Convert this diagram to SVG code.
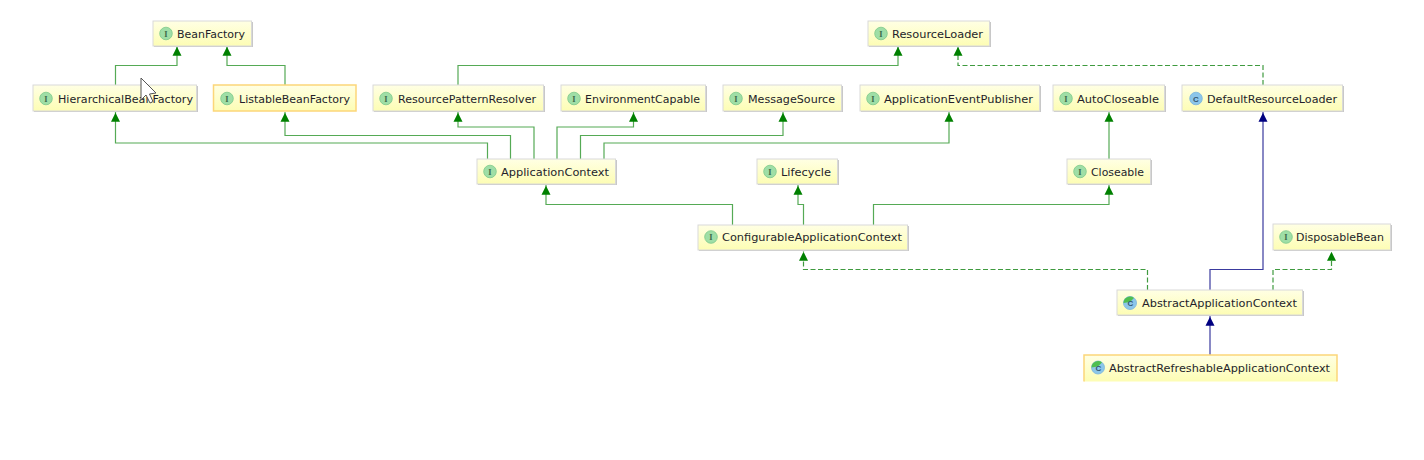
<svg xmlns="http://www.w3.org/2000/svg" width="1424" height="460" viewBox="0 0 1424 460">
<defs>
<marker id="ag" markerUnits="userSpaceOnUse" markerWidth="11" markerHeight="9" refX="9.700" refY="4.500" orient="auto" overflow="visible"><path d="M0 0L9 4.500L0 9z" fill="#008000"/></marker>
<marker id="ab" markerUnits="userSpaceOnUse" markerWidth="11" markerHeight="9" refX="9.700" refY="4.500" orient="auto" overflow="visible"><path d="M0 0L9 4.500L0 9z" fill="#000080"/></marker>
<linearGradient id="bg" x1="0" y1="0" x2="0" y2="1"><stop offset="0" stop-color="#ffffe4"/><stop offset="1" stop-color="#fdfdb4"/></linearGradient>
</defs>
<style>
text{font-family:"DejaVu Sans",sans-serif;font-size:11px;fill:#241e2a}
.box{fill:url(#bg);stroke:#d9d9d9;stroke-width:1}
.sel{fill:url(#bg);stroke:#fcd67a;stroke-width:1.5}
.shadow{fill:#c8c8c8}
.g,.gd,.b{fill:none;stroke-width:1.2}
.g{stroke:#55aa55;marker-end:url(#ag)}
.gd{stroke:#3f9a3f;stroke-dasharray:5 2.500;marker-end:url(#ag)}
.b{stroke:#3a3a9e;marker-end:url(#ab)}
.ic{fill:#9fdea6;stroke:#7cc98a;stroke-width:.8}
.il{font-family:"Liberation Serif",serif;font-size:8.500px;font-weight:bold;fill:#3e6b4a;text-anchor:middle}
.cc{fill:#8cc6ea;stroke:#78b4dc;stroke-width:.8}
.cw{fill:#4fbf4f}
.cl{font-family:"Liberation Sans",sans-serif;font-size:8px;font-weight:bold;fill:#33566e;text-anchor:middle}
</style>
<g id="connectors">
<path class="g" d="M115.500 85V65.500H177V46"/>
<path class="g" d="M285 85V65.500H227V46"/>
<path class="g" d="M458 85V65.500H898V46"/>
<path class="gd" d="M1263 85V65.500H958V46"/>
<path class="g" d="M487.500 159V143H115.500V112"/>
<path class="g" d="M510.500 159V135.500H285V112"/>
<path class="g" d="M534 159V127H458V112"/>
<path class="g" d="M557 159V127H633.500V112"/>
<path class="g" d="M580.500 159V135.500H783V112"/>
<path class="g" d="M604 159V143H949V112"/>
<path class="g" d="M1109 159V112"/>
<path class="g" d="M732.500 225V204.500H546V185"/>
<path class="g" d="M803.500 225V204.500H798V185"/>
<path class="g" d="M873.500 225V204.500H1109V185"/>
<path class="gd" d="M1147.500 290V269.500H803.500V251"/>
<path class="b" d="M1210 290V269.500H1263V112"/>
<path class="gd" d="M1273 290V269.500H1331.500V251"/>
<path class="b" d="M1210 355V316"/>
</g>
<g id="BeanFactory"><rect class="shadow" x="154" y="22" width="99" height="25"/><rect class="box" x="153" y="21" width="98.500" height="25"/><circle class="ic" cx="166" cy="33.500" r="6.300"/><text class="il" x="166" y="36.500">I</text><text x="177" y="37.500" textLength="68" lengthAdjust="spacingAndGlyphs">BeanFactory</text></g>
<g id="ResourceLoader"><rect class="shadow" x="869" y="22" width="122" height="25"/><rect class="box" x="868" y="21" width="121.500" height="25"/><circle class="ic" cx="881" cy="33.500" r="6.300"/><text class="il" x="881" y="36.500">I</text><text x="892" y="37.500" textLength="91" lengthAdjust="spacingAndGlyphs">ResourceLoader</text></g>
<g id="HierarchicalBeanFactory"><rect class="shadow" x="34" y="86" width="164" height="26"/><rect class="box" x="33" y="85" width="163.500" height="26"/><circle class="ic" cx="46" cy="98.500" r="6.300"/><text class="il" x="46" y="101.500">I</text><text x="58" y="102.500" textLength="135" lengthAdjust="spacingAndGlyphs">HierarchicalBeanFactory</text></g>
<g id="ListableBeanFactory"><rect class="sel" x="213.500" y="85" width="142.500" height="26"/><circle class="ic" cx="227" cy="98.500" r="6.300"/><text class="il" x="227" y="101.500">I</text><text x="239" y="102.500" textLength="111" lengthAdjust="spacingAndGlyphs">ListableBeanFactory</text></g>
<g id="ResourcePatternResolver"><rect class="shadow" x="374" y="86" width="171" height="26"/><rect class="box" x="373" y="85" width="170.500" height="26"/><circle class="ic" cx="386" cy="98.500" r="6.300"/><text class="il" x="386" y="101.500">I</text><text x="398" y="102.500" textLength="138" lengthAdjust="spacingAndGlyphs">ResourcePatternResolver</text></g>
<g id="EnvironmentCapable"><rect class="shadow" x="562" y="86" width="145" height="26"/><rect class="box" x="561" y="85" width="144.500" height="26"/><circle class="ic" cx="574" cy="98.500" r="6.300"/><text class="il" x="574" y="101.500">I</text><text x="585" y="102.500" textLength="115" lengthAdjust="spacingAndGlyphs">EnvironmentCapable</text></g>
<g id="MessageSource"><rect class="shadow" x="724" y="86" width="119" height="26"/><rect class="box" x="723" y="85" width="118.500" height="26"/><circle class="ic" cx="736" cy="98.500" r="6.300"/><text class="il" x="736" y="101.500">I</text><text x="748" y="102.500" textLength="87" lengthAdjust="spacingAndGlyphs">MessageSource</text></g>
<g id="ApplicationEventPublisher"><rect class="shadow" x="861" y="86" width="180" height="26"/><rect class="box" x="860" y="85" width="179.500" height="26"/><circle class="ic" cx="873" cy="98.500" r="6.300"/><text class="il" x="873" y="101.500">I</text><text x="884" y="102.500" textLength="149" lengthAdjust="spacingAndGlyphs">ApplicationEventPublisher</text></g>
<g id="AutoCloseable"><rect class="shadow" x="1054" y="86" width="112" height="26"/><rect class="box" x="1053" y="85" width="111.500" height="26"/><circle class="ic" cx="1066" cy="98.500" r="6.300"/><text class="il" x="1066" y="101.500">I</text><text x="1077" y="102.500" textLength="82" lengthAdjust="spacingAndGlyphs">AutoCloseable</text></g>
<g id="DefaultResourceLoader"><rect class="shadow" x="1183" y="86" width="161" height="26"/><rect class="box" x="1182" y="85" width="160.500" height="26"/><circle class="cc" cx="1196" cy="98.500" r="6.300"/><text class="cl" x="1196" y="101.500">C</text><text x="1207" y="102.500" textLength="130" lengthAdjust="spacingAndGlyphs">DefaultResourceLoader</text></g>
<g id="ApplicationContext"><rect class="shadow" x="478" y="160" width="139" height="25"/><rect class="box" x="477" y="159" width="138.500" height="25"/><circle class="ic" cx="490" cy="171.500" r="6.300"/><text class="il" x="490" y="174.500">I</text><text x="501" y="175.500" textLength="108" lengthAdjust="spacingAndGlyphs">ApplicationContext</text></g>
<g id="Lifecycle"><rect class="shadow" x="758" y="160" width="81" height="25"/><rect class="box" x="757" y="159" width="80.500" height="25"/><circle class="ic" cx="770" cy="171.500" r="6.300"/><text class="il" x="770" y="174.500">I</text><text x="781" y="175.500" textLength="50" lengthAdjust="spacingAndGlyphs">Lifecycle</text></g>
<g id="Closeable"><rect class="shadow" x="1068" y="160" width="84" height="25"/><rect class="box" x="1067" y="159" width="83.500" height="25"/><circle class="ic" cx="1080" cy="171.500" r="6.300"/><text class="il" x="1080" y="174.500">I</text><text x="1091" y="175.500" textLength="53" lengthAdjust="spacingAndGlyphs">Closeable</text></g>
<g id="ConfigurableApplicationContext"><rect class="shadow" x="699" y="226" width="210" height="25"/><rect class="box" x="698" y="225" width="209.500" height="25"/><circle class="ic" cx="711" cy="237" r="6.300"/><text class="il" x="711" y="240">I</text><text x="722" y="241" textLength="180" lengthAdjust="spacingAndGlyphs">ConfigurableApplicationContext</text></g>
<g id="DisposableBean"><rect class="shadow" x="1274" y="225" width="118" height="26"/><rect class="box" x="1273" y="224" width="117.500" height="26"/><circle class="ic" cx="1286" cy="237" r="6.300"/><text class="il" x="1286" y="240">I</text><text x="1296" y="241" textLength="88" lengthAdjust="spacingAndGlyphs">DisposableBean</text></g>
<g id="AbstractApplicationContext"><rect class="shadow" x="1118" y="291" width="186" height="25"/><rect class="box" x="1117" y="290" width="185.500" height="25"/><circle class="cc" cx="1130" cy="303" r="6.500"/><path class="cw" d="M1123.500 303A6.500 6.500 0 0 1 1134 298L1130 302z"/><text class="cl" x="1130.500" y="306">C</text><text x="1142" y="307" textLength="155" lengthAdjust="spacingAndGlyphs">AbstractApplicationContext</text></g>
<g id="AbstractRefreshableApplicationContext"><path d="M1084 381.500V355H1337V381.500" fill="url(#bg)" stroke="#fcd67a" stroke-width="1.500"/><circle class="cc" cx="1098" cy="367.500" r="6.500"/><path class="cw" d="M1091.500 367.500A6.500 6.500 0 0 1 1102 362.500L1098 366.500z"/><text class="cl" x="1098.500" y="370.500">C</text><text x="1109" y="372" textLength="221" lengthAdjust="spacingAndGlyphs">AbstractRefreshableApplicationContext</text></g>
<path id="cursor" d="M141 78V100L146 95L150 103L153 101.500L149.500 94L156 93z" fill="#fff" stroke="#555" stroke-width="1"/>
</svg>
